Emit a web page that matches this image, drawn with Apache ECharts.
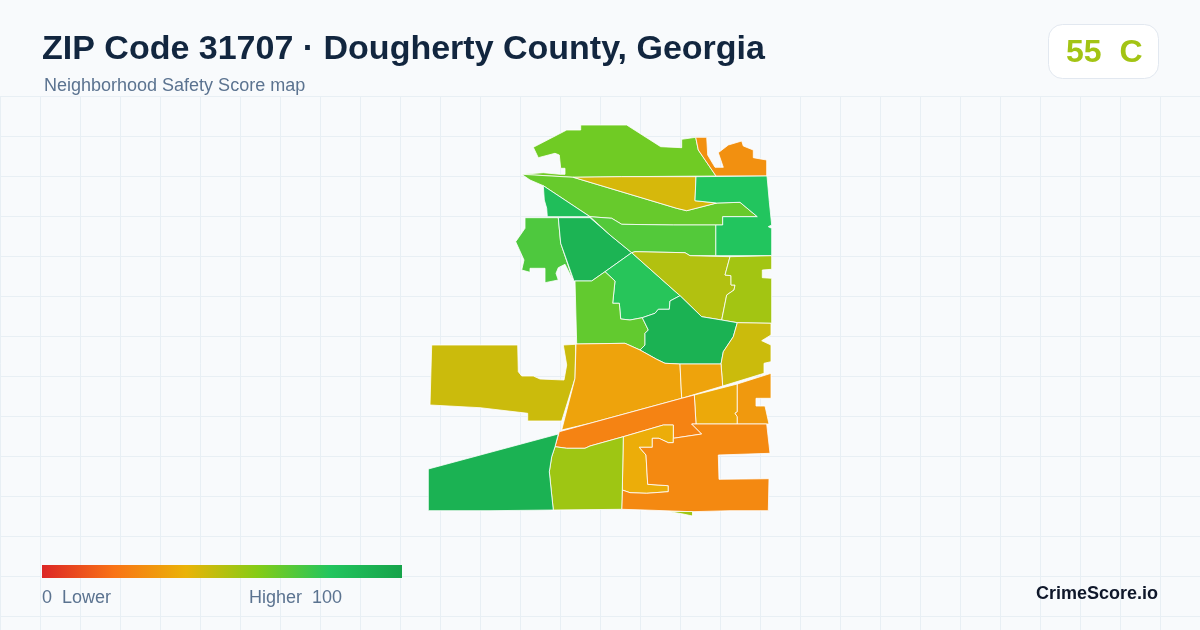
<!DOCTYPE html>
<html>
<head>
<meta charset="utf-8">
<title>ZIP Code 31707</title>
<script src="https://cdn.jsdelivr.net/npm/echarts@6/dist/echarts.min.js"></script>
<style>
html,body{margin:0;padding:0;background:#f8fafc;}
#main{width:1200px;height:630px;}
</style>
</head>
<body>
<div id="main"></div>
<script>
// neighborhoods and their safety score
var areaNames = ['A01','A02','A03','A04','A05','A06','A07','A08','A09','A11','A12','A13',
    'A14','A15','A16','A17','A18','A19','A20','A21','A22','A23','A24','A25','A26'];
var areaScores = [64,29,66,44,80,84,71,90,70,79,51,54,67,91,46,46,35,35,37,32,25,38,27,55,91];
var legendStops = ['#dc2626','#f97316','#eab308','#84cc16','#22c55e','#16a34a'];
var scoreMin = 0;
var scoreMax = 100;

var areaRings = {
    A01: [[[533.3,147.3],[566.7,130],[580.7,130],[580.7,125],[626.7,125],[660.7,146.7],[681.7,147.7],[681.7,139.3],[695.7,137.3],[698.3,150],[716,176],[621.7,176.7],[573.3,177.3],[521.7,174.3],[543.3,172.7],[560,174.3],[565,174.3],[565,168.3],[560.7,168.3],[559.3,155],[555,153.3],[538.3,157.7]]],
    A02: [[[695.7,137.3],[706.7,137.3],[707.7,155],[715,167.3],[723.3,167.3],[718.3,152.7],[728.3,145],[741.7,141],[743.3,146],[753.3,150],[753.3,157.7],[766.7,160],[766.7,176],[716,176],[698.3,150]]],
    A03: [[[521.7,174.3],[573.3,177.3],[676.7,208.3],[686.7,210.7],[716.7,203],[740,202.3],[757.3,216.7],[722.7,216.7],[722.7,225],[673.3,225],[621.7,224.3],[611.7,218.3],[590,216.7],[543.3,185.7],[530,180]]],
    A04: [[[573.3,177.3],[621.7,176.7],[696,176.7],[695,200.7],[716.7,203],[686.7,210.7],[676.7,208.3]]],
    A05: [[[696,176.7],[767,176],[769.3,201.7],[771.7,225],[768.3,226.7],[771.7,228.3],[771.7,255.7],[715.7,255.7],[715.7,225],[722.7,225],[722.7,216.7],[757.3,216.7],[740,202.3],[716.7,203],[695,200.7]]],
    A06: [[[543.3,185.7],[590,216.7],[547.3,216.7],[546.7,208.3],[544.3,200]]],
    A07: [[[558.3,217.7],[560.7,243.3],[573.3,280.7],[565,264.3],[558.3,267.7],[556,273.3],[558.3,280],[545,282.7],[545,268.3],[530,268.3],[530,272.3],[521.7,270],[524,260],[515.7,241.7],[525,228.3],[525,217.7]]],
    A08: [[[558.3,217.7],[590,217.7],[610,235],[631.7,252.7],[605,271.7],[591.7,281],[574,281],[560.7,243.3]]],
    A09: [[[590,216.7],[611.7,218.3],[621.7,224.3],[673.3,225],[715.7,225],[715.7,255.7],[690,255.7],[685,252.7],[635,251.7],[631.7,252.7],[610,235]]],
    A11: [[[631.7,252.7],[680,295.7],[670,301],[669.3,309.3],[658.3,309.3],[655,313.3],[642.3,317.7],[630,320],[620.7,319],[619.3,303.3],[612.7,303.3],[615,281],[605,271.7]]],
    A12: [[[631.7,252.7],[635,251.7],[685,252.7],[690,255.7],[730,256.7],[725,275],[731,275.7],[731,285],[735,285],[734,290],[726.7,295],[721.7,320],[701.7,316.7],[680,295.7]]],
    A13: [[[730,256.7],[771.7,255.7],[771.7,269.3],[762.3,270],[762.3,277.7],[771.7,278.3],[771.7,323.3],[737.3,322.7],[721.7,320],[726.7,295],[734,290],[735,285],[731,285],[731,275.7],[725,275]]],
    A14: [[[575,281],[591.7,281],[605,271.7],[615,281],[612.7,303.3],[619.3,303.3],[620.7,319],[630,320],[642.3,317.7],[648.3,330],[645,333.3],[645,345],[640,350],[625,343.3],[576.7,344]]],
    A15: [[[642.3,317.7],[655,313.3],[658.3,309.3],[669.3,309.3],[670,301],[680,295.7],[701.7,316.7],[721.7,320],[737.3,322.7],[733.3,336.7],[723.3,351.7],[721,364],[680,364],[665,363.3],[656.7,359.3],[640,350],[645,345],[645,333.3],[648.3,330]]],
    A16: [[[737.3,322.7],[771,323.3],[771,335],[761.7,340.7],[771,345],[771,361.7],[764,363.3],[764,373.3],[722.7,386],[721,364],[723.3,351.7],[733.3,336.7]]],
    A17: [[[431.7,345],[517.7,345],[518.3,371.7],[521.7,376],[533.3,376],[540,379],[564,380],[566.7,365],[563.3,345],[575.7,344.3],[575,378.3],[561.7,421],[527.7,421],[527.7,413.3],[480,407.7],[430,405]]],
    A18: [[[576,344],[625,343.3],[640,350],[656.7,359.3],[665,363.3],[680,364],[681.7,398.3],[590,423.3],[561.7,430],[575,378.3]]],
    A19: [[[680,364],[721,364],[722.7,386],[681.7,398.3]]],
    A20: [[[694.3,395],[737.3,384],[737.3,411.7],[735,413.3],[737.3,416.7],[737.3,424],[696,424]]],
    A21: [[[737.3,384],[771,373.3],[771,398.3],[756,398.3],[756,406],[765,406],[769,424],[737.3,424],[737.3,416.7],[735,413.3],[737.3,411.7]]],
    A22: [[[559.3,431.7],[590,423.3],[681.7,398.3],[694.3,395],[696,424],[691.7,424],[701.7,434],[673.3,438.3],[673.3,425],[663.3,425],[623.3,436.7],[590,446],[585,448.3],[566.7,448.3],[555,446.7]]],
    A23: [[[623.3,436.7],[663.3,425],[673.3,425],[673.3,442.7],[668.3,442.7],[659,438.3],[652.3,438.3],[652.3,447.3],[639.3,447.3],[646,455],[647.7,484.3],[668.3,485.7],[668.3,491.7],[646.7,493.3],[630,492.7],[622.3,490]]],
    A24: [[[701.7,434],[691.7,424],[766.7,424],[770,453.3],[718.3,455],[719,479.3],[769,478.7],[768.3,510.7],[730,510.7],[691.7,511.7],[645,510],[621.7,509.3],[622.3,490],[630,492.7],[646.7,493.3],[668.3,491.7],[668.3,485.7],[647.7,484.3],[646,455],[639.3,447.3],[652.3,447.3],[652.3,438.3],[659,438.3],[668.3,442.7],[673.3,442.7],[673.3,438.3]]],
    A25: [[[555,446.7],[566.7,448.3],[585,448.3],[590,446],[623.3,436.7],[622.3,490],[621.7,509.3],[553.3,510],[551.7,495],[549.3,471.7],[551.7,456.7]],
          [[668.3,511.5],[692.5,511.5],[692.5,516],[683,514]]],
    A26: [[[558.3,434],[555,446.7],[551.7,456.7],[549.3,471.7],[551.7,495],[553.3,510],[490,510.7],[428.3,510.7],[428.3,469]]]
};

function buildGeoJson(){
    var features = [];
    areaNames.forEach(function(name){
        features.push({
            type: 'Feature',
            properties: {name: name},
            geometry: {
                type: 'MultiPolygon',
                // map y runs north, picture y runs south
                coordinates: areaRings[name].map(function(ring){
                    return [ring.map(function(p){ return [p[0], -p[1]]; })];
                })
            }
        });
    });
    return {type: 'FeatureCollection', features: features};
}

function gridLines(){
    var lines = [];
    for(var x = 0.5; x < 1200; x += 40){
        lines.push({type:'line', z:-1, silent:true, shape:{x1:x,y1:96.5,x2:x,y2:630}, style:{stroke:'#e8eff4',lineWidth:1}});
    }
    for(var y = 96.5; y < 630; y += 40){
        lines.push({type:'line', z:-1, silent:true, shape:{x1:0,y1:y,x2:1200,y2:y}, style:{stroke:'#e8eff4',lineWidth:1}});
    }
    return lines;
}

// legend bar: the visualMap's own bar has rounded ends, so it is hidden and drawn here
function legendBar(){
    var stops = legendStops.map(function(c, i){
        return {offset: i/(legendStops.length-1), color: c};
    });
    return {type:'rect', z:1, silent:true, shape:{x:42,y:565,width:360,height:13},
        style:{fill:new echarts.graphic.LinearGradient(0,0,1,0,stops)}};
}

var myChart = echarts.init(document.getElementById('main'));
echarts.registerMap('zip31707', buildGeoJson());

var font = '"Liberation Sans", Arial, sans-serif';
var option = {
    backgroundColor: '#f8fafc',
    animation: false,
    title: [
        {text:'ZIP Code 31707 · Dougherty County, Georgia', left:42, top:33, padding:0,
            textStyle:{fontFamily:font,fontSize:34,fontWeight:'bold',color:'#12263f'}},
        {text:'Neighborhood Safety Score map', left:44, top:77, padding:0,
            textStyle:{fontFamily:font,fontSize:18,fontWeight:'normal',color:'#5b7390'}},
        {text:'55  C', left:1066, top:37, padding:0,
            textStyle:{fontFamily:font,fontSize:32,fontWeight:'bold',color:'#a3c414'}},
        {text:'0  Lower', left:42, top:589, padding:0,
            textStyle:{fontFamily:font,fontSize:18,fontWeight:'normal',color:'#5b7390'}},
        {text:'Higher  100', left:249, top:589, padding:0,
            textStyle:{fontFamily:font,fontSize:18,fontWeight:'normal',color:'#5b7390'}},
        {text:'CrimeScore.io', right:42, top:585, padding:0,
            textStyle:{fontFamily:font,fontSize:18,fontWeight:'bold',color:'#0f172a'}}
    ],
    graphic: gridLines().concat([
        {type:'rect', z:-1, silent:true, shape:{x:1048.5,y:24.5,width:110,height:54,r:14},
            style:{fill:'#ffffff',stroke:'#e2e8f0',lineWidth:1}},
        legendBar()
    ]),
    visualMap: {
        type: 'continuous',
        show: false,
        min: scoreMin,
        max: scoreMax,
        inRange: {color: legendStops}
    },
    series: [{
        type: 'map',
        map: 'zip31707',
        aspectScale: 1,
        left: 428.3,
        top: 125,
        width: 343.4,
        height: 391,
        silent: true,
        roam: false,
        label: {show:false},
        itemStyle: {borderColor:'#ffffff', borderWidth:0.8},
        data: areaNames.map(function(name, i){
            return {name:name, value:areaScores[i]};
        })
    }]
};
myChart.setOption(option);
</script>
</body>
</html>
